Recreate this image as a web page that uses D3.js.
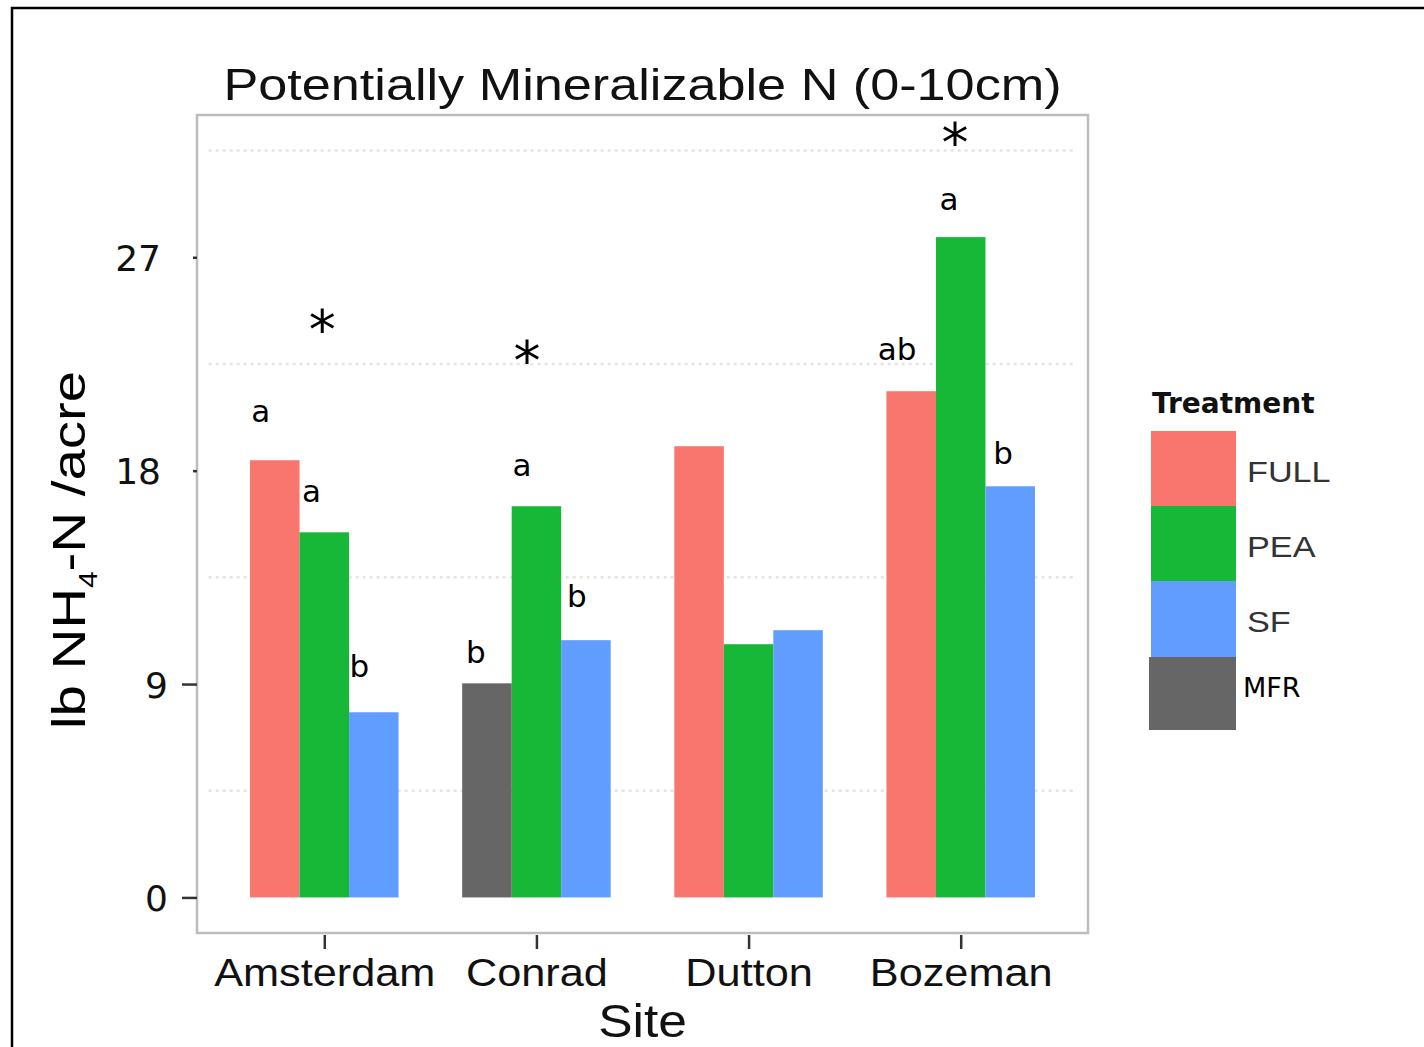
<!DOCTYPE html>
<html>
<head>
<meta charset="utf-8">
<script src="https://cdn.jsdelivr.net/npm/d3@7"></script>
<style>
  body { margin: 0; background: #fff; }
  svg text { font-family: "DejaVu Sans", Verdana, sans-serif; }
</style>
</head>
<body>
<svg id="chart" width="1424" height="1047"></svg>
<script>
// ---- data ----
const sites = ["Amsterdam", "Conrad", "Dutton", "Bozeman"];
const treatments = ["FULL", "PEA", "SF", "MFR"];
const treatmentColors = ["#F8766D", "#17B838", "#619CFF", "#666666"];
const fullValues = [18.44, null, 19.03, 21.35];
const peaValues  = [15.40, 16.50, 10.68, 27.85];
const sfValues   = [7.81, 10.85, 11.27, 17.34];
const mfrValues  = [null, 9.03, null, null];
const yTicks = [0, 9, 18, 27];
const gridValues = [4.5, 13.5, 22.5, 31.5];

// mean-separation letters (x on the site axis, 1 = first site; y = baseline in lb/acre)
const letterText = ["a", "a", "b", "b", "a", "b", "ab", "a", "b"];
const letterX = [0.70, 0.94, 1.165, 1.715, 1.932, 2.19, 3.70, 3.945, 4.20];
const letterY = [20.04, 16.67, 9.29, 9.88, 17.76, 12.24, 22.65, 28.98, 18.30];
// significance stars per site
const starX = [0.99, 1.955, 3.973];
const starY = [23.17, 21.85, 31.05];

// ---- scales ----
const svg = d3.select("#chart");
const x = d3.scaleLinear().domain([0.4, 4.6]).range([197, 1088]);
const y = d3.scaleLinear().domain([-1.5, 33]).range([933, 115]);
const color = d3.scaleOrdinal().domain(treatments).range(treatmentColors);

// FULL and MFR share the first dodge slot
const slot = { FULL: 0, PEA: 1, SF: 2, MFR: 0 };
const dodgeWidth = 0.7;
const barW = dodgeWidth / 3;

const seriesValues = { FULL: fullValues, PEA: peaValues, SF: sfValues, MFR: mfrValues };
const bars = [];
treatments.forEach(t => {
  seriesValues[t].forEach((v, i) => {
    if (v != null) bars.push({ site: i + 1, treatment: t, value: v });
  });
});

// outer frame
svg.append("rect")
  .attr("x", 12).attr("y", 8).attr("width", 1430).attr("height", 1060)
  .attr("fill", "none").attr("stroke", "#000").attr("stroke-width", 2.5);

// title
svg.append("text")
  .attr("transform", `translate(${(x.range()[0] + x.range()[1]) / 2},100) scale(1.16,1)`)
  .attr("text-anchor", "middle")
  .style("font-family", "'Liberation Sans', Arial, sans-serif")
  .style("font-size", "45px")
  .attr("fill", "#111")
  .text("Potentially Mineralizable N (0-10cm)");

// panel
svg.append("rect")
  .attr("x", x.range()[0]).attr("y", y.range()[1])
  .attr("width", x.range()[1] - x.range()[0])
  .attr("height", y.range()[0] - y.range()[1])
  .attr("fill", "#fff").attr("stroke", "#bdbdbd").attr("stroke-width", 2.5);

// dotted minor grid
svg.append("g").selectAll("line").data(gridValues).join("line")
  .attr("x1", x(0.455)).attr("x2", x(4.535))
  .attr("y1", d => y(d)).attr("y2", d => y(d))
  .attr("stroke", "#e4e4e4").attr("stroke-width", 2.5)
  .attr("stroke-dasharray", "3,4");

// bars
svg.append("g").selectAll("rect").data(bars).join("rect")
  .attr("x", d => x(d.site - dodgeWidth / 2 + slot[d.treatment] * barW))
  .attr("width", x(barW) - x(0))
  .attr("y", d => y(d.value))
  .attr("height", d => y(0) - y(d.value))
  .attr("fill", d => color(d.treatment));

// y axis
const yAxis = svg.append("g")
  .attr("transform", `translate(${x.range()[0]},0)`)
  .call(d3.axisLeft(y).tickValues(yTicks).tickSize(15).tickPadding(0));
yAxis.select(".domain").remove();
yAxis.selectAll(".tick line")
  .attr("stroke", "#333").attr("stroke-width", 2.5)
  .attr("x2", d => d >= 18 ? -4 : -15);
yAxis.selectAll(".tick text")
  .attr("x", d => d >= 18 ? -36 : -29).attr("dy", "0.37em")
  .style("font-size", "36px").attr("fill", "#111");

// x axis
const xAxis = svg.append("g")
  .attr("transform", `translate(0,935)`)
  .call(d3.axisBottom(x).tickValues([1, 2, 3, 4]).tickFormat(i => sites[i - 1]).tickSize(14));
xAxis.select(".domain").remove();
xAxis.selectAll(".tick line").attr("stroke", "#333").attr("stroke-width", 2.5);
xAxis.selectAll(".tick text")
  .attr("y", 51).attr("dy", 0)
  .attr("transform", "scale(1.11,1)")
  .style("font-family", "'Liberation Sans', Arial, sans-serif")
  .style("font-size", "39px").attr("fill", "#111");

// axis titles
svg.append("text")
  .attr("transform", `translate(${(x.range()[0] + x.range()[1]) / 2},1037) scale(1.12,1)`)
  .attr("text-anchor", "middle")
  .style("font-family", "'Liberation Sans', Arial, sans-serif")
  .style("font-size", "46px").attr("fill", "#111")
  .text("Site");

const yTitle = svg.append("text")
  .attr("transform", `translate(85,550) rotate(-90) scale(1.2,1)`)
  .attr("text-anchor", "middle")
  .style("font-family", "'Liberation Sans', Arial, sans-serif")
  .style("font-size", "47px").attr("fill", "#000");
yTitle.append("tspan").text("lb NH");
yTitle.append("tspan").attr("dy", 12).style("font-size", "25px").text("4");
yTitle.append("tspan").attr("dy", -12).text("-N /acre");

// letters
svg.append("g").selectAll("text").data(letterText).join("text")
  .attr("x", (d, i) => x(letterX[i]))
  .attr("y", (d, i) => y(letterY[i]))
  .attr("text-anchor", "middle")
  .style("font-size", "31px").attr("fill", "#000")
  .text(d => d);

// stars
svg.append("g").selectAll("text").data(starX).join("text")
  .attr("x", d => x(d))
  .attr("y", (d, i) => y(starY[i]))
  .attr("text-anchor", "middle")
  .style("font-size", "54px").attr("fill", "#000")
  .text("*");

// legend
const legend = svg.append("g").attr("transform", "translate(1151,0)");
legend.append("text")
  .attr("x", 1).attr("y", 413)
  .style("font-size", "28px").style("font-weight", "bold").attr("fill", "#111")
  .text("Treatment");
const keyTops = [431, 506, 581, 657];
const keyHeights = [75, 75, 76, 73];
const lg = legend.selectAll("g.key").data(treatments).join("g").attr("class", "key");
lg.append("rect")
  .attr("x", (d, i) => i === 3 ? -2 : 0)
  .attr("y", (d, i) => keyTops[i])
  .attr("width", (d, i) => i === 3 ? 87 : 85)
  .attr("height", (d, i) => keyHeights[i])
  .attr("fill", d => color(d));
lg.append("text")
  .attr("transform", (d, i) => i === 3
    ? `translate(92,${keyTops[i] + 40})`
    : `translate(96,${keyTops[i] + 51}) scale(1.18,1)`)
  .style("font-family", (d, i) => i === 3 ? "'DejaVu Sans', sans-serif" : "'Liberation Sans', Arial, sans-serif")
  .style("font-size", (d, i) => i === 3 ? "27px" : "29px")
  .attr("fill", (d, i) => i === 3 ? "#000" : "#333")
  .text(d => d);
</script>
</body>
</html>
